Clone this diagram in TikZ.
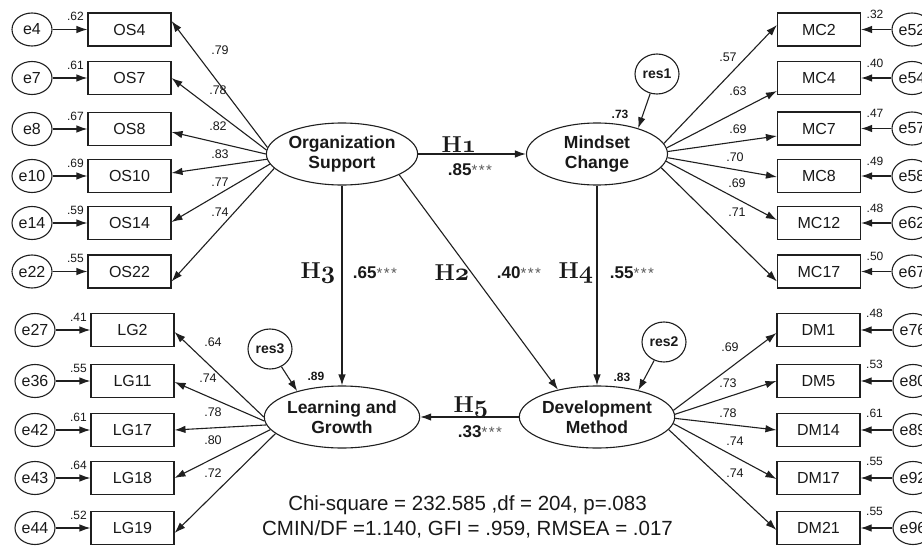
\documentclass[tikz,border=0pt]{standalone}
\usepackage{fontspec}
\setmainfont{Liberation Sans}
\newfontfamily\lmr{Latin Modern Roman}
\usetikzlibrary{shapes.geometric,arrows.meta}
\newcommand\hyp[1]{{\lmr\bfseries H}{\boldmath$\mathnormal{#1}$}}
\newcommand\coef[1]{{\bfseries #1}{\color{black!65}\fontsize{15}{15}\selectfont *\kern1.5pt*\kern1.5pt*}}
\tikzset{
  ink/.style={draw=black!88, line width=1.1pt},
  obs/.style={ink, minimum width=83pt, minimum height=33pt, inner sep=0pt, font=\fontsize{16}{16}\selectfont},
  err/.style={ink, ellipse, minimum width=40pt, minimum height=33pt, inner sep=0pt, font=\fontsize{16}{16}\selectfont},
  lat/.style={ink, ellipse, minimum width=141pt, minimum height=62pt, inner sep=0pt, align=center, font=\fontsize{17.5}{20}\selectfont\bfseries},
  resid/.style={ink, ellipse, minimum width=44pt, minimum height=40pt, inner sep=0pt, font=\fontsize{14}{14}\selectfont\bfseries},
  arr/.style={draw=black!88, line width=1.1pt, -{Latex[length=11pt,width=7.5pt]}},
  sqlbl/.style={inner sep=0pt, font=\fontsize{12}{12}\selectfont},
  ldlbl/.style={inner sep=0pt, font=\fontsize{12.5}{12.5}\selectfont},
  rsq/.style={inner sep=0pt, font=\fontsize{12}{12}\selectfont\bfseries},
  hlbl/.style={inner sep=0pt, font=\fontsize{23}{23}\selectfont},
  clbl/.style={inner sep=0pt, font=\fontsize{17}{17}\selectfont},
}
\begin{document}
\begin{tikzpicture}[x=1pt,y=-1pt,text=black!90]
\clip (0,0) rectangle (922,546);
\fill[white] (0,0) rectangle (922,546);

% latent variables
\node[lat] (org) at (342,154) {Organization\\Support};
\node[lat] (mind) at (597,154) {Mindset\\Change};
\node[lat] (learn) at (342,417) {Learning and\\Growth};
\node[lat] (dev) at (597,417) {Development\\Method};

% residuals
\node[resid] (res1) at (657,74) {res1};
\node[resid] (res2) at (664,342) {res2};
\node[resid] (res3) at (270,349) {res3};
\draw[arr] (res1) -- (mind.32);
\draw[arr] (res2) -- (dev.33);
\draw[arr] (res3) -- (learn.150);
\node[rsq] (r1) at (620,114) {.73};
\node[rsq] (r2) at (622,377) {.83};
\node[rsq] (r3) at (316,376) {.89};

% Organization Support indicators
\foreach \n/\e/\y/\s/\l/\lx/\ly/\a/\t in {
  4/4/29.5/.62/.79/220/50/175/8.5,
  7/7/78/.61/.78/218/90/177/0,
  8/8/129/.67/.82/218/126/180/-3,
  10/10/176/.69/.83/220/154/184/3,
  14/14/223/.59/.77/220/182/188/1,
  22/22/271.5/.55/.74/220/212/192/-10}{
  \node[obs] (os\n) at (129.5,\y) {OS\n};
  \node[err] (e\e) at (32,\y) {e\e};
  \draw[arr] (e\e) -- (os\n);
  \node[sqlbl] (sqos\n) at ([xshift=-12pt,yshift=-4pt]os\n.north west) {\s};
  \draw[arr] (org.\a) -- ([yshift=\t]os\n.east);
  \node[ldlbl] (ldos\n) at (\lx,\ly) {\l};
}

% Learning and Growth indicators
\foreach \n/\e/\y/\s/\l/\lx/\ly/\a/\t in {
  2/27/330/.41/.64/213/342/180/-2,
  11/36/381/.55/.74/208/378/183/-1,
  17/42/430/.61/.78/213/412/186/0,
  18/43/478/.64/.80/213/440/190/0,
  19/44/528/.52/.72/213/473/194/-5}{
  \node[obs] (lg\n) at (132.5,\y) {LG\n};
  \node[err] (e\e) at (35,\y) {e\e};
  \draw[arr] (e\e) -- (lg\n);
  \node[sqlbl] (sqlg\n) at ([xshift=-12pt,yshift=-4pt]lg\n.north west) {\s};
  \draw[arr] (learn.\a) -- ([yshift=\t]lg\n.east);
  \node[ldlbl] (ldlg\n) at (\lx,\ly) {\l};
}

% Mindset Change indicators
\foreach \n/\e/\y/\s/\l/\lx/\ly/\a/\t in {
  2/52/29.5/.32/.57/728/57/9/4.5,
  4/54/78/.40/.63/738/91/5/-13,
  7/57/128.5/.47/.69/738/129/2/-7.5,
  8/58/176/.49/.70/735/157/-3/-1,
  12/62/223/.48/.69/737/183/-6/3,
  17/67/271.5/.50/.71/737/212/-12/-10}{
  \node[obs] (mc\n) at (819,\y) {MC\n};
  \node[err] (e\e) at (912,\y) {e\e};
  \draw[arr] (e\e) -- (mc\n);
  \node[sqlbl] (sqmc\n) at ([xshift=14pt,yshift=-2pt]mc\n.north east) {\s};
  \draw[arr] (mind.\a) -- ([yshift=\t]mc\n.west);
  \node[ldlbl] (ldmc\n) at (\lx,\ly) {\l};
}

% Development Method indicators
\foreach \n/\e/\y/\s/\l/\lx/\ly/\a/\t in {
  1/76/330/.48/.69/730/347/5/-3,
  5/80/381/.53/.73/728/383/2/0,
  14/89/430/.61/.78/728/413/-1/0,
  17/92/478/.55/.74/735/441/-5/-1,
  21/96/528/.55/.74/735/473/-10/-2}{
  \node[obs] (dm\n) at (818.5,\y) {DM\n};
  \node[err] (e\e) at (913,\y) {e\e};
  \draw[arr] (e\e) -- (dm\n);
  \node[sqlbl] (sqdm\n) at ([xshift=14pt,yshift=0pt]dm\n.north east) {\s};
  \draw[arr] (dev.\a) -- ([yshift=\t]dm\n.west);
  \node[ldlbl] (lddm\n) at (\lx,\ly) {\l};
}

% structural paths
\draw[arr] (org) -- (mind);
\draw[arr] (org) -- (learn);
\draw[arr] (org.-20) -- (dev.145);
\draw[arr] (mind) -- (dev);
\draw[arr] (dev) -- (learn);

\node[hlbl] (h1) at (459,145) {\hyp{1}};
\node[clbl] (c1) at (470,170) {\coef{.85}};
\node[hlbl] (h3) at (318,273) {\hyp{3}};
\node[clbl] (c3) at (375,273) {\coef{.65}};
\node[hlbl] (h2) at (452,273) {\hyp{2}};
\node[clbl] (c2) at (519,273) {\coef{.40}};
\node[hlbl] (h4) at (576,273) {\hyp{4}};
\node[clbl] (c4) at (632,273) {\coef{.55}};
\node[hlbl] (h5) at (471,407) {\hyp{5}};
\node[clbl] (c5) at (480,432) {\coef{.33}};

% fit indices
\node[inner sep=0pt, align=center, font=\fontsize{20.5}{25}\selectfont] (fit) at (467.5,517)
  {Chi-square = 232.585 ,df = 204, p=.083\\CMIN/DF =1.140, GFI = .959, RMSEA = .017};
\end{tikzpicture}
\end{document}
